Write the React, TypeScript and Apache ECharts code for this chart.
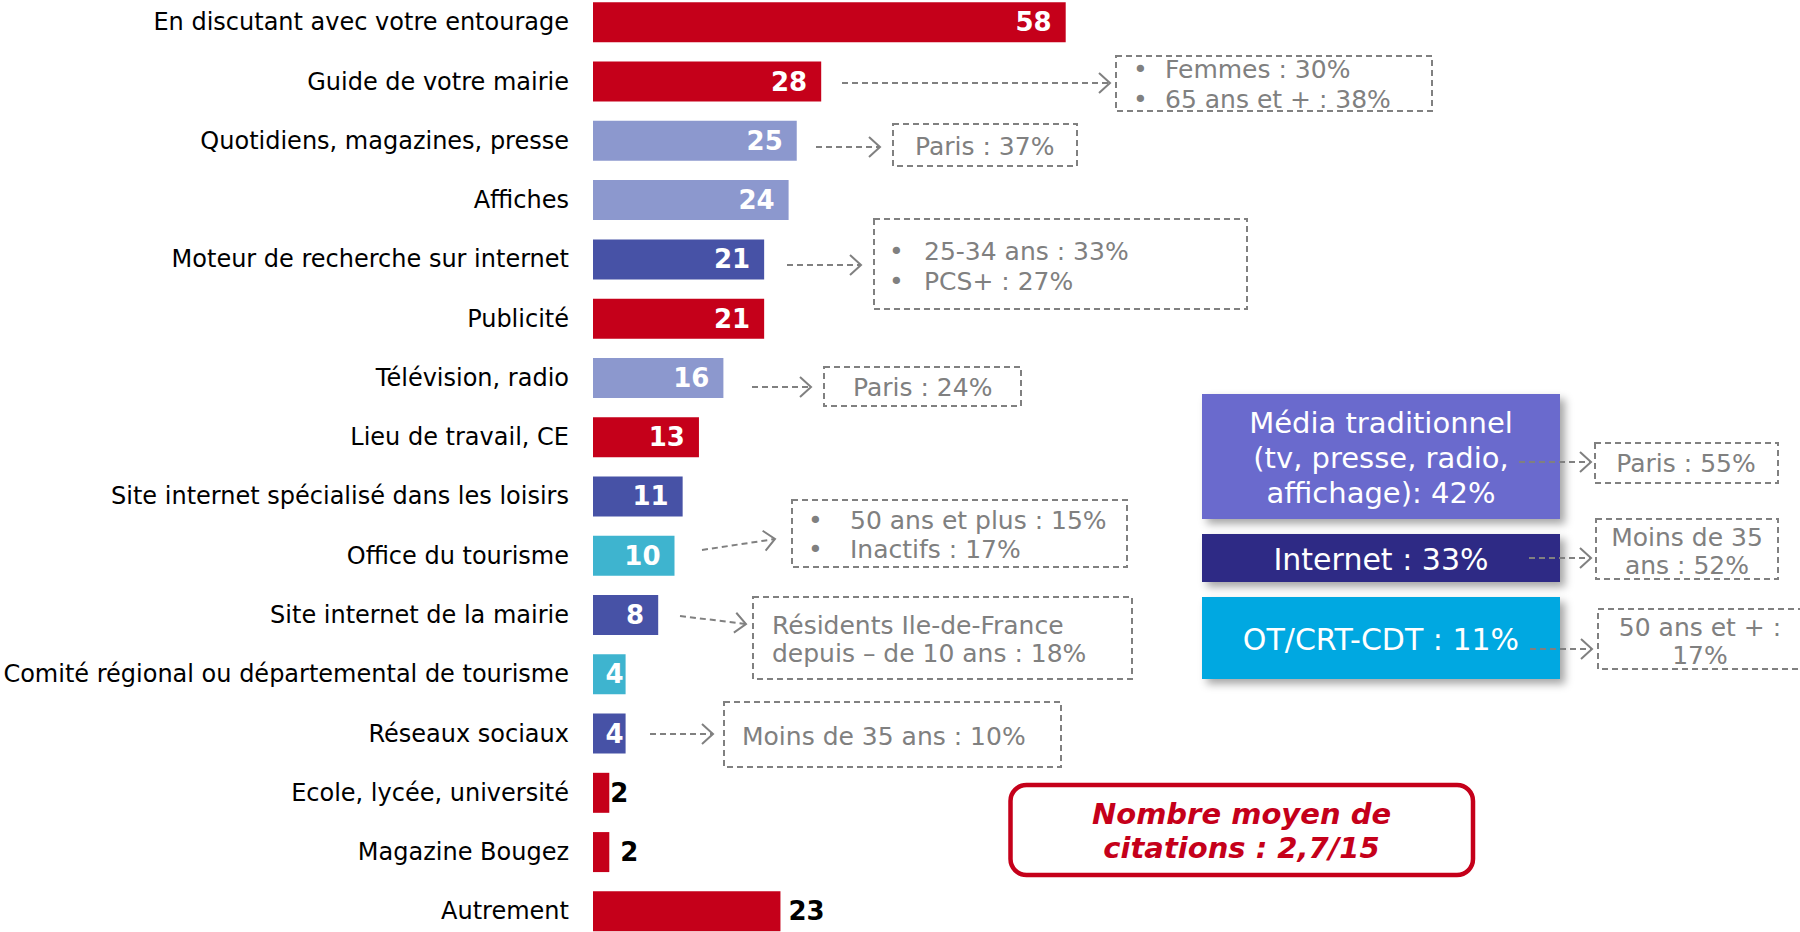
import React, { useEffect, useRef } from "react";
import * as echarts from "echarts";

const categories = [
  "En discutant avec votre entourage",
  "Guide de votre mairie",
  "Quotidiens, magazines, presse",
  "Affiches",
  "Moteur de recherche sur internet",
  "Publicité",
  "Télévision, radio",
  "Lieu de travail, CE",
  "Site internet spécialisé dans les loisirs",
  "Office du tourisme",
  "Site internet de la mairie",
  "Comité régional ou départemental de tourisme",
  "Réseaux sociaux",
  "Ecole, lycée, université",
  "Magazine Bougez",
  "Autrement",
];
const values = [58, 28, 25, 24, 21, 21, 16, 13, 11, 10, 8, 4, 4, 2, 2, 23];
const groups = ["red", "red", "press", "press", "web", "red", "press", "red", "web", "ot", "web", "ot", "web", "red", "red", "red"];

const noteGuide = ["Femmes : 30%", "65 ans et + : 38%"];
const notePresse = "Paris : 37%";
const noteMoteur = ["25-34 ans : 33%", "PCS+ : 27%"];
const noteTele = "Paris : 24%";
const noteOffice = ["50 ans et plus : 15%", "Inactifs : 17%"];
const noteMairie = ["Résidents Ile-de-France", "depuis – de 10 ans : 18%"];
const noteReseaux = "Moins de 35 ans : 10%";

const summaryMedia = "Média traditionnel\n(tv, presse, radio,\naffichage): 42%";
const summaryInternet = "Internet : 33%";
const summaryOT = "OT/CRT-CDT : 11%";
const summaryNoteMedia = "Paris : 55%";
const summaryNoteInternet = "Moins de 35\nans : 52%";
const summaryNoteOT = "50 ans et + :\n17%";
const averageText = "Nombre moyen de\ncitations : 2,7/15";

const palette: Record<string, string> = {
  red: "#C5001A",
  press: "#8C98CE",
  web: "#4752A6",
  ot: "#3EB4CF",
};
const GRAY = "#808080";
const FONT = '"DejaVu Sans", Verdana, sans-serif';
const OFFSET = 20; // container is shifted up by this many pixels

function dashedBox(x: number, y: number, w: number, h: number) {
  return {
    type: "rect",
    shape: { x, y, width: w, height: h },
    style: { fill: "none", stroke: GRAY, lineWidth: 2, lineDash: [6, 4] },
    z: 5,
  };
}

function arrow(x1: number, y1: number, x2: number, y2: number) {
  const dx = x2 - x1;
  const dy = y2 - y1;
  const len = Math.sqrt(dx * dx + dy * dy);
  const ux = dx / len;
  const uy = dy / len;
  const nx = -uy;
  const ny = ux;
  const back = 11;
  const half = 10;
  return [
    {
      type: "line",
      shape: { x1, y1, x2, y2 },
      style: { stroke: GRAY, lineWidth: 2, lineDash: [6, 4] },
      z: 10,
    },
    {
      type: "polyline",
      shape: {
        points: [
          [x2 - back * ux + half * nx, y2 - back * uy + half * ny],
          [x2, y2],
          [x2 - back * ux - half * nx, y2 - back * uy - half * ny],
        ],
      },
      style: { stroke: GRAY, lineWidth: 2, fill: "none" },
      z: 10,
    },
  ];
}

function txt(x: number, y: number, text: string, size: number, color: string, align = "left", extra: any = {}) {
  return {
    type: "text",
    z: 11,
    style: {
      x,
      y,
      text,
      fill: color,
      font: `${extra.fontStyle || "normal"} ${extra.fontWeight || "normal"} ${size}px ${FONT}`,
      textAlign: align,
      textVerticalAlign: "middle",
      lineHeight: extra.lineHeight || size * 1.2,
    },
  };
}

function bulletLines(bx: number, tx: number, ys: number[], lines: string[]) {
  const out: any[] = [];
  lines.forEach((l, i) => {
    out.push(txt(bx, ys[i], "•", 25, GRAY));
    out.push(txt(tx, ys[i], l, 25, GRAY));
  });
  return out;
}

function bigBox(x: number, y: number, w: number, h: number, color: string) {
  return {
    type: "rect",
    shape: { x, y, width: w, height: h },
    style: {
      fill: color,
      shadowBlur: 8,
      shadowOffsetX: 5,
      shadowOffsetY: 5,
      shadowColor: "rgba(0,0,0,0.35)",
    },
    z: 2,
  };
}

export default function App() {
  const ref = useRef<HTMLDivElement>(null);
  useEffect(() => {
    if (!ref.current) return;
    const chart = echarts.init(ref.current, undefined, { renderer: "svg" });

    const outside: Record<number, number> = { 13: 1, 14: 11, 15: 8 };
    const small: Record<number, number> = { 11: 2, 12: 2 };

    const data = values.map((v, i) => {
      const item: any = { value: v, itemStyle: { color: palette[groups[i]] } };
      if (outside[i] !== undefined) {
        item.label = { position: "right", distance: outside[i], color: "#000" };
      } else if (small[i] !== undefined) {
        item.label = { distance: small[i] };
      }
      return item;
    });

    const children: any[] = [
      ...arrow(842, 83, 1110, 83),
      dashedBox(1116, 56, 316, 55),
      ...bulletLines(1133, 1165, [69, 99], noteGuide),

      ...arrow(816, 147, 880, 147),
      dashedBox(893, 124, 184, 42),
      txt(915, 146, notePresse, 25, GRAY),

      ...arrow(787, 265, 861, 265),
      dashedBox(874, 219, 373, 90),
      ...bulletLines(889, 924, [251, 281], noteMoteur),

      ...arrow(752, 387, 811, 387),
      dashedBox(824, 367, 197, 39),
      txt(853, 387, noteTele, 25, GRAY),

      ...arrow(702, 550, 775, 539),
      dashedBox(792, 500, 335, 67),
      ...bulletLines(808, 850, [520, 549], noteOffice),

      ...arrow(680, 616, 746, 624),
      dashedBox(753, 597, 379, 82),
      txt(772, 639, noteMairie.join("\n"), 25, GRAY, "left", { lineHeight: 28 }),

      ...arrow(650, 734, 713, 734),
      dashedBox(724, 702, 337, 65),
      txt(742, 736, noteReseaux, 25, GRAY),

      bigBox(1202, 394, 358, 125, "#6B6ACD"),
      txt(1381, 458, summaryMedia, 29, "#fff", "center", { lineHeight: 35 }),
      bigBox(1202, 534, 358, 48, "#2E2B85"),
      txt(1381, 559, summaryInternet, 30, "#fff", "center"),
      bigBox(1202, 597, 358, 82, "#00A8E1"),
      txt(1381, 639, summaryOT, 30, "#fff", "center"),

      ...arrow(1519, 462, 1591, 462),
      dashedBox(1595, 443, 183, 40),
      txt(1686, 463, summaryNoteMedia, 25, GRAY, "center"),

      ...arrow(1529, 558, 1591, 558),
      dashedBox(1596, 519, 182, 60),
      txt(1687, 551, summaryNoteInternet, 25, GRAY, "center", { lineHeight: 28 }),

      ...arrow(1530, 649, 1592, 649),
      dashedBox(1598, 609, 205, 60),
      txt(1700, 641, summaryNoteOT, 25, GRAY, "center", { lineHeight: 28 }),

      {
        type: "rect",
        shape: { x: 1010.5, y: 785, width: 462.5, height: 90, r: 16 },
        style: { fill: "#fff", stroke: "#C5001A", lineWidth: 4.5 },
        z: 2,
      },
      txt(1241.5, 830.5, averageText, 29, "#C5001A", "center", {
        fontStyle: "italic",
        fontWeight: "bold",
        lineHeight: 34,
      }),
    ];

    chart.setOption({
      animation: false,
      backgroundColor: "#fff",
      grid: { left: 593, width: 489, top: 22.3 - 29.63 + OFFSET, height: 16 * 59.27, containLabel: false },
      xAxis: { type: "value", min: 0, max: 60, show: false },
      yAxis: {
        type: "category",
        inverse: true,
        data: categories,
        axisLine: { show: false },
        axisTick: { show: false },
        splitLine: { show: false },
        axisLabel: { fontSize: 24, color: "#000", fontFamily: FONT, margin: 24 },
      },
      series: [
        {
          type: "bar",
          data,
          barWidth: 40,
          label: {
            show: true,
            position: "insideRight",
            distance: 14,
            color: "#fff",
            fontWeight: "bold",
            fontSize: 26,
            fontFamily: FONT,
          },
        },
      ],
      graphic: [{ type: "group", x: 0, y: OFFSET, children }],
    });

    return () => chart.dispose();
  }, []);

  return (
    <div
      ref={ref}
      style={{ position: "absolute", left: 0, top: -OFFSET, width: 1800, height: 932 + 2 * OFFSET }}
    />
  );
}
